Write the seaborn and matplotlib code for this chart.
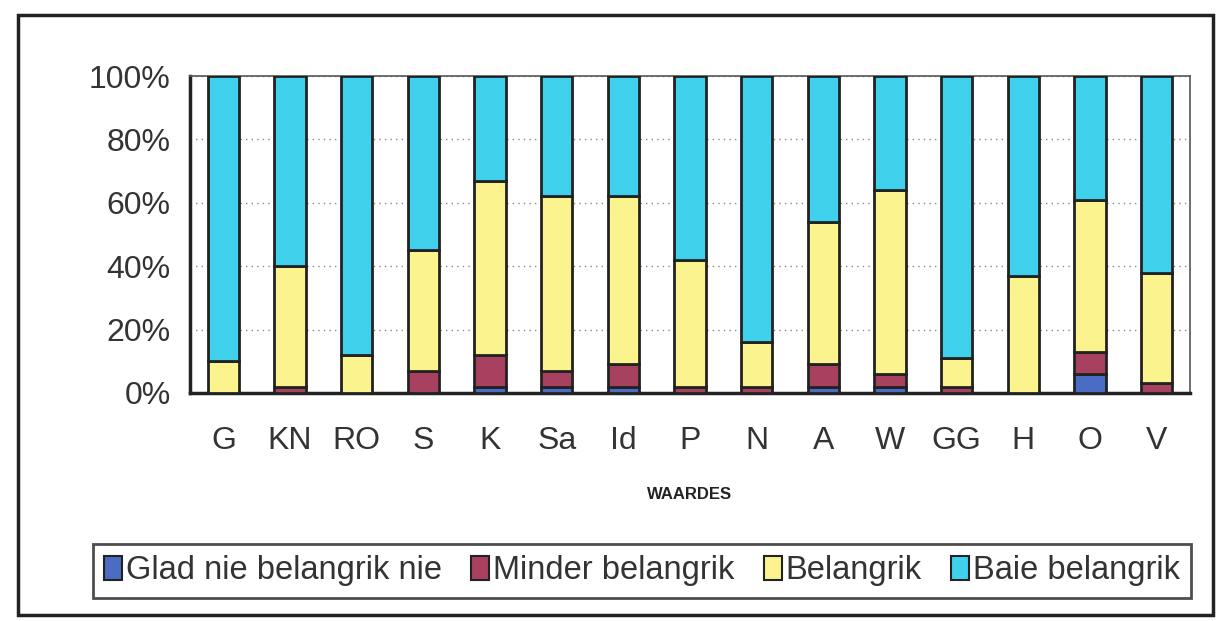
import matplotlib
matplotlib.use("Agg")
import matplotlib.pyplot as plt
import seaborn as sns
import numpy as np
import pandas as pd
from matplotlib.patches import Rectangle, Patch
from matplotlib.ticker import FixedLocator

categories = ["G", "KN", "RO", "S", "K", "Sa", "Id", "P", "N", "A", "W", "GG", "H", "O", "V"]
glad_nie = [0, 0, 0, 0, 2, 2, 2, 0, 0, 2, 2, 0, 0, 6, 0]
minder = [0, 2, 0, 7, 10, 5, 7, 2, 2, 7, 4, 2, 0, 7, 3]
belangrik = [10, 38, 12, 38, 55, 55, 53, 40, 14, 45, 58, 9, 37, 48, 35]
baie = [90, 60, 88, 55, 33, 38, 38, 58, 84, 46, 36, 89, 63, 39, 62]
series_names = ["Glad nie belangrik nie", "Minder belangrik", "Belangrik", "Baie belangrik"]
colors = ["#4a6cc4", "#a8415f", "#fbf48e", "#3fd0ec"]

sns.set_theme(style="white")
plt.rcParams['font.family'] = ['Liberation Sans', 'DejaVu Sans']

fig = plt.figure(figsize=(12.18, 6.21), dpi=100)
ax = fig.add_axes([190/1218, 1-393/621, 1000/1218, 317/621])

df = pd.DataFrame({"cat": categories})
series = [glad_nie, minder, belangrik, baie]
bottom = np.zeros(len(categories))
for name, vals, col in zip(series_names, series, colors):
    df["v"] = vals
    sns.barplot(data=df, x="cat", y="v", bottom=bottom, color=col, width=0.47,
                edgecolor="#222222", linewidth=2, saturation=1, ax=ax, zorder=3)
    bottom = bottom + np.array(vals)

ax.set_ylim(0, 100)
ax.set_xlim(-0.5, len(categories) - 0.5)
ax.set_yticks([0, 20, 40, 60, 80, 100])
ax.set_yticklabels(["0%", "20%", "40%", "60%", "80%", "100%"], fontsize=23, color="#333333")
ax.tick_params(axis="x", which="major", length=0, labelsize=23, pad=24, labelcolor="#333333")
ax.xaxis.set_minor_locator(FixedLocator(np.arange(-0.5, len(categories), 1)))
ax.tick_params(axis="x", which="minor", length=10, width=2, color="#222222", direction="out")
ax.tick_params(axis="y", length=8, width=2, color="#222222", direction="out", pad=6)
ax.set_ylabel("")
ax.set_xlabel("WAARDES", fontsize=12, fontweight="bold", labelpad=22, color="#222222")
ax.yaxis.grid(True, linestyle=(0, (1, 3)), color="#888888", linewidth=1, zorder=0)
ax.set_axisbelow(True)
for s in ["left", "bottom"]:
    ax.spines[s].set_color("#222222")
    ax.spines[s].set_linewidth(2.5)
for s in ["top", "right"]:
    ax.spines[s].set_color("#555555")
    ax.spines[s].set_linewidth(1.2)

handles = [Patch(facecolor=c, edgecolor="#222222", linewidth=1.5) for c in colors]
leg = fig.legend(handles, series_names, loc="center", bbox_to_anchor=(642/1218, 1-571/621),
                 ncol=4, fontsize=23.5, frameon=True, fancybox=False, edgecolor="#222222",
                 handlelength=0.55, handleheight=0.75, handletextpad=0.12, columnspacing=0.9,
                 borderpad=0.35, labelcolor="#333333")
leg.get_frame().set_linewidth(2)

fig.add_artist(Rectangle((18/1218, 6/621), 1195/1218, 600/621, transform=fig.transFigure,
                         fill=False, edgecolor="#222222", linewidth=2.5))

fig.savefig("out.png", dpi=100, facecolor="white")
